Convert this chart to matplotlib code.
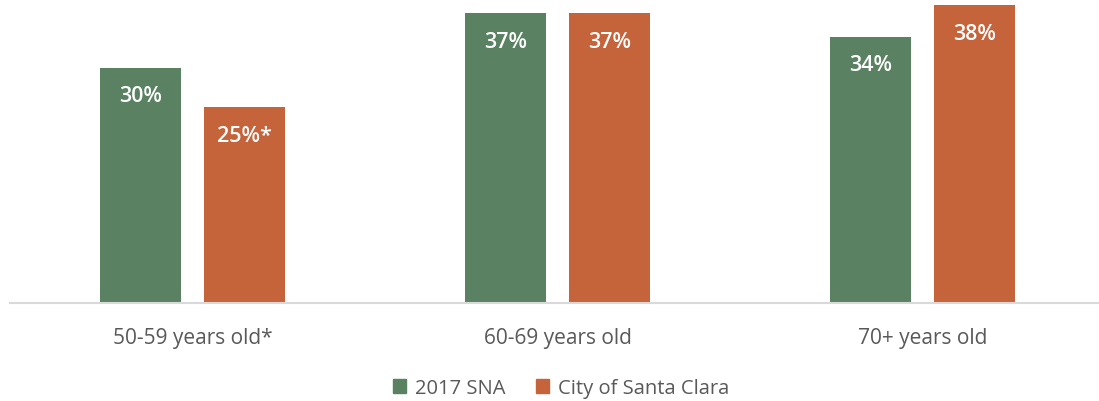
import matplotlib

matplotlib.use("Agg")
import matplotlib.pyplot as plt
import numpy as np
from matplotlib.patches import Patch

plt.rcParams["font.family"] = ["Open Sans", "DejaVu Sans"]

CATEGORIES = ["50-59 years old*", "60-69 years old", "70+ years old"]
SNA_2017 = [30, 37, 34]
SANTA_CLARA = [25, 37, 38]
SNA_LABELS = ["30%", "37%", "34%"]
SANTA_CLARA_LABELS = ["25%*", "37%", "38%"]
SERIES_NAMES = ["2017 SNA", "City of Santa Clara"]

GREEN = "#5A8262"
ORANGE = "#C5633A"
TEXT = "#595959"
AXIS = "#D9D9D9"

W, H = 1099, 402
fig = plt.figure(figsize=(W / 100, H / 100), dpi=100)
ax = fig.add_axes([10 / W, (H - 304) / H, 1095 / W, 304 / H])

x = np.arange(len(CATEGORIES))
width = 81 / 365
offset = 52 / 365

bars1 = ax.bar(x - offset, SNA_2017, width, color=GREEN)
bars2 = ax.bar(x + offset, SANTA_CLARA, width, color=ORANGE)

for bars, labels in ((bars1, SNA_LABELS), (bars2, SANTA_CLARA_LABELS)):
    for bar, lab in zip(bars, labels):
        ax.annotate(lab, (bar.get_x() + bar.get_width() / 2, bar.get_height()),
                    xytext=(0, -28), textcoords="offset pixels",
                    ha="center", va="center", color="white",
                    fontsize=15.5, fontweight="semibold")

ax.set_xlim(-0.5, 2.5)
ax.set_ylim(0, 38.8)
ax.set_yticks([])
ax.set_xticks(x)
ax.set_xticklabels(CATEGORIES, color=TEXT, fontsize=15)
ax.tick_params(axis="x", length=0, pad=17)
for s in ("top", "right", "left"):
    ax.spines[s].set_visible(False)
ax.spines["bottom"].set_color(AXIS)
ax.spines["bottom"].set_linewidth(1.5)

handles = [Patch(color=GREEN, label=SERIES_NAMES[0]),
           Patch(color=ORANGE, label=SERIES_NAMES[1])]
leg = fig.legend(handles=handles, loc="center", bbox_to_anchor=(561 / W, 1 - 389 / H),
                 ncol=2, frameon=False, fontsize=14.5, handlelength=0.65, handleheight=0.65,
                 handletextpad=0.45, columnspacing=1.5)
for t in leg.get_texts():
    t.set_color(TEXT)

fig.savefig("out.png", dpi=100)
